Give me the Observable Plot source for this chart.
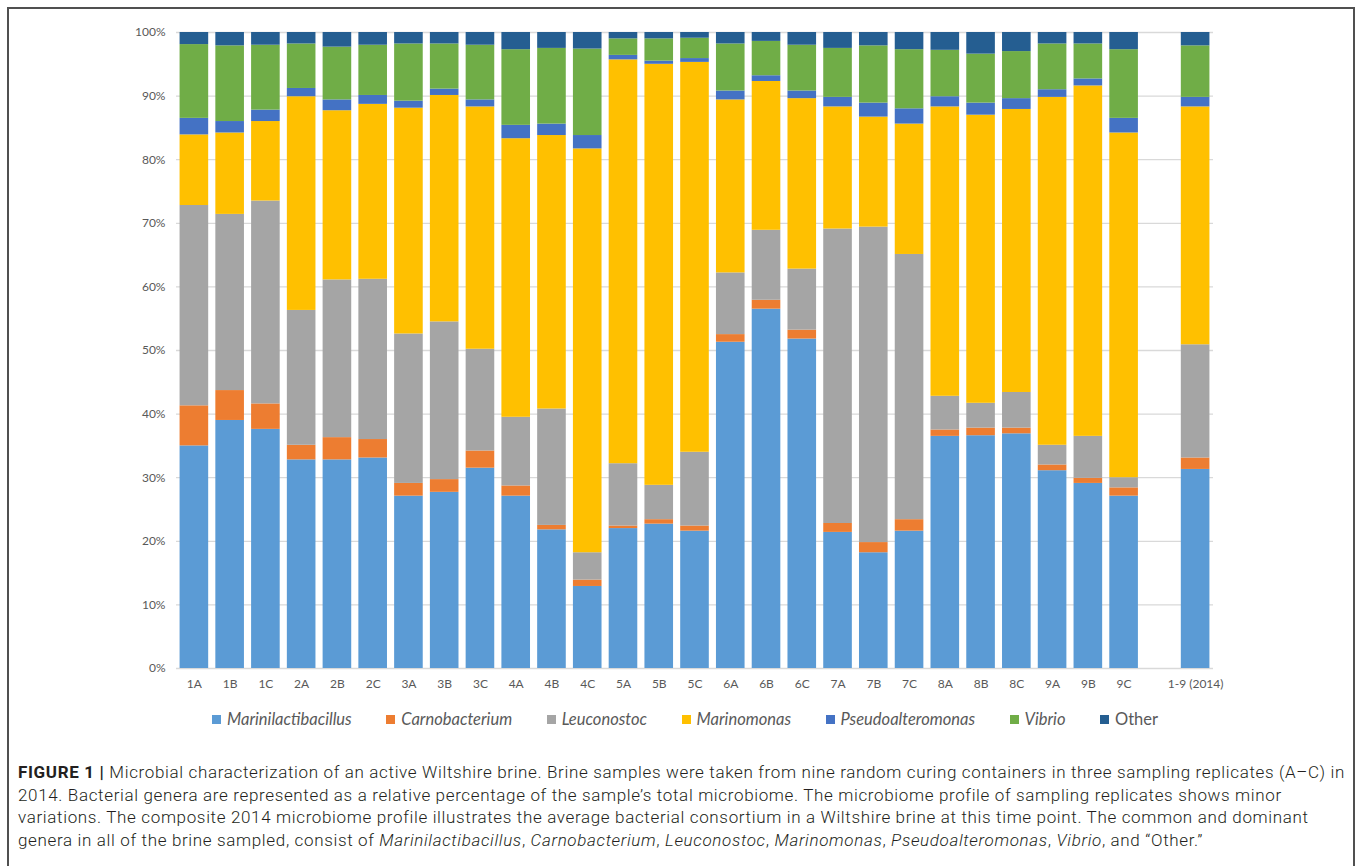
<!DOCTYPE html>
<html><head><meta charset="utf-8">
<script src="https://cdn.jsdelivr.net/npm/d3@7"></script>
<script src="https://cdn.jsdelivr.net/npm/@observablehq/plot@0.6"></script>
<style>
body{margin:0;background:#fff;width:1360px;height:866px;overflow:hidden;position:relative;font-family:Lato,sans-serif}
#frame{position:absolute;left:7px;top:7px;width:1348px;height:900px;border:2px solid #505050;box-sizing:border-box}
#chart{position:absolute;left:0;top:0}
#legend{position:absolute;left:212px;width:946px;top:709px;height:20px;display:flex;justify-content:space-between;align-items:center;font-size:16.5px;color:#595959}
.item{display:flex;align-items:center;white-space:nowrap}
.sw{width:9px;height:9px;margin-right:6px}
#caption{position:absolute;left:18px;top:761px;font-family:Roboto,sans-serif;font-weight:300;font-size:17px;line-height:22.7px;color:#231f20;white-space:nowrap}
#caption b{font-weight:700}
.ln{display:block}
</style></head><body>
<div id="frame"></div>
<div id="chart"></div>
<div id="legend"></div>
<div id="caption">
<span class="ln" id="ln1"><b>FIGURE 1 |</b> Microbial characterization of an active Wiltshire brine. Brine samples were taken from nine random curing containers in three sampling replicates (A–C) in</span>
<span class="ln">2014. Bacterial genera are represented as a relative percentage of the sample’s total microbiome. The microbiome profile of sampling replicates shows minor</span>
<span class="ln">variations. The composite 2014 microbiome profile illustrates the average bacterial consortium in a Wiltshire brine at this time point. The common and dominant</span>
<span class="ln">genera in all of the brine sampled, consist of <i>Marinilactibacillus</i>, <i>Carnobacterium</i>, <i>Leuconostoc</i>, <i>Marinomonas</i>, <i>Pseudoalteromonas</i>, <i>Vibrio</i>, and “Other.”</span>
</div>
<script>
const samples = ["1A","1B","1C","2A","2B","2C","3A","3B","3C","4A","4B","4C","5A","5B","5C","6A","6B","6C","7A","7B","7C","8A","8B","8C","9A","9B","9C","1-9 (2014)"];
const xDomain = ["1A","1B","1C","2A","2B","2C","3A","3B","3C","4A","4B","4C","5A","5B","5C","6A","6B","6C","7A","7B","7C","8A","8B","8C","9A","9B","9C"," ","1-9 (2014)"];
const genera = ["Marinilactibacillus","Carnobacterium","Leuconostoc","Marinomonas","Pseudoalteromonas","Vibrio","Other"];
const colors = ["#5B9BD5","#ED7D31","#A5A5A5","#FFC000","#4472C4","#70AD47","#255E91"];
const marinilactibacillus = [35.0,39.0,37.6,32.8,32.8,33.1,27.1,27.7,31.5,27.1,21.8,12.9,22.0,22.7,21.6,51.3,56.5,51.8,21.4,18.2,21.6,36.5,36.6,36.9,31.1,29.1,27.1,31.3];
const carnobacterium      = [6.3,4.7,4.0,2.3,3.5,2.9,2.0,2.0,2.7,1.6,0.7,1.0,0.4,0.7,0.8,1.2,1.4,1.4,1.4,1.6,1.8,1.0,1.2,0.9,0.9,0.8,1.3,1.8];
const leuconostoc         = [31.5,27.7,31.9,21.2,24.8,25.2,23.5,24.8,16.0,10.8,18.3,4.3,9.8,5.4,11.6,9.7,11.0,9.6,46.3,49.6,41.7,5.3,3.9,5.6,3.1,6.6,1.6,17.8];
const marinomonas         = [11.1,12.8,12.5,33.6,26.6,27.5,35.5,35.6,38.1,43.8,43.0,63.5,63.5,66.2,61.3,27.2,23.4,26.8,19.2,17.3,20.5,45.5,45.3,44.5,54.7,55.1,54.2,37.4];
const pseudoalteromonas   = [2.6,1.8,1.8,1.3,1.7,1.4,1.1,1.0,1.1,2.1,1.8,2.1,0.7,0.5,0.6,1.4,0.9,1.2,1.5,2.2,2.4,1.6,1.9,1.7,1.2,1.1,2.3,1.5];
const vibrio              = [11.6,11.9,10.2,7.0,8.3,7.9,9.0,7.1,8.6,11.9,11.9,13.6,2.6,3.5,3.2,7.4,5.4,7.2,7.7,9.0,9.3,7.3,7.7,7.4,7.2,5.5,10.8,8.1];
const other               = [1.9,2.1,2.0,1.8,2.3,2.0,1.8,1.8,2.0,2.7,2.5,2.6,1.0,1.0,0.9,1.8,1.4,2.0,2.5,2.1,2.7,2.8,3.4,3.0,1.8,1.8,2.7,2.1];
const yTicks = [0,10,20,30,40,50,60,70,80,90,100];

const series = [marinilactibacillus,carnobacterium,leuconostoc,marinomonas,pseudoalteromonas,vibrio,other];
const table = [];
samples.forEach((s,i) => genera.forEach((g,j) => table.push({sample:s, genus:g, value:series[j][i]})));

const chart = Plot.plot({
  width:1360, height:700,
  marginLeft:176, marginRight:147, marginTop:32, marginBottom:32,
  style:{fontFamily:"Lato, sans-serif", fontSize:"12px", color:"#595959", background:"transparent"},
  x:{domain:xDomain, paddingInner:0.2, paddingOuter:0.1, round:false, label:null},
  y:{domain:[0,100], label:null},
  color:{domain:genera, range:colors},
  marks:[
    Plot.gridY(yTicks, {stroke:"#d9d9d9", strokeOpacity:1, strokeWidth:1.3}),
    Plot.barY(table, Plot.stackY({x:"sample", y:"value", fill:"genus", order:genera})),
    Plot.axisY({ticks:yTicks, tickFormat:d => d + "%", tickSize:0, tickPadding:11, label:null}),
    Plot.axisX({tickSize:0, tickPadding:11, label:null})
  ]
});
document.getElementById("chart").appendChild(chart);

const legend = document.getElementById("legend");
genera.forEach((g,j) => {
  const it = document.createElement("div");
  it.className = "item";
  const sw = document.createElement("span");
  sw.className = "sw"; sw.style.background = colors[j];
  const t = document.createElement("span");
  t.textContent = g;
  if (g !== "Other") t.style.fontStyle = "italic";
  it.appendChild(sw); it.appendChild(t);
  legend.appendChild(it);
});

// fit caption letter spacing so the first line spans the same width as the reference
const ln1 = document.getElementById("ln1");
const cap = document.getElementById("caption");
const w = ln1.getBoundingClientRect().width;
const n = ln1.textContent.length;
const ls = (1327 - w) / n;
cap.style.letterSpacing = ls.toFixed(3) + "px";
</script>
</body></html>
